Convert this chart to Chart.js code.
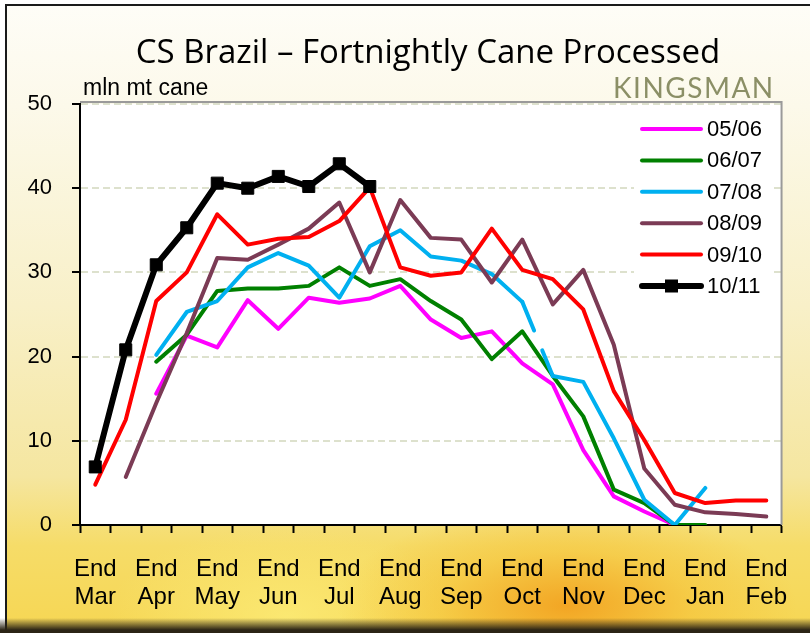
<!DOCTYPE html>
<html>
<head>
<meta charset="utf-8">
<script src="https://cdn.jsdelivr.net/npm/chart.js@4/dist/chart.umd.min.js"></script>
<style>
  html, body { margin: 0; padding: 0; background: #fff; }
  #frame {
    position: absolute; left: 5px; top: 4px; width: 805px; height: 629px;
    border-left: 2px solid #1a1a1a; border-top: 2px solid #1a1a1a;
    background:
      radial-gradient(ellipse 230px 100px at 560px 600px, rgba(242,160,30,0.9), rgba(245,190,50,0.5) 55%, rgba(250,220,80,0) 100%),
      radial-gradient(ellipse 180px 90px at 280px 610px, rgba(252,236,120,0.8), rgba(252,236,120,0) 100%),
      linear-gradient(to bottom, #fefdf7 0px, #fcf9ea 100px, #f8f0c8 300px, #f5e6a0 470px, #f6dc68 540px, #f6d652 629px);
  }
  #shadow {
    position: absolute; left: 0; top: 618px; width: 810px; height: 15px;
    background: linear-gradient(to bottom, rgba(80,60,20,0), #2b2416 80%);
  }
  #wrap { position: absolute; left: 0; top: 0; width: 810px; height: 633px; }
</style>
</head>
<body>
<div id="frame"></div>
<div id="shadow"></div>
<div id="wrap"><canvas id="caneChart"></canvas></div>
<script>
// fortnight categories, only the "End" ones get a tick label
var fortnights = ['End Mar', 'Mid Apr', 'End Apr', 'Mid May', 'End May', 'Mid Jun', 'End Jun',
    'Mid Jul', 'End Jul', 'Mid Aug', 'End Aug', 'Mid Sep', 'End Sep', 'Mid Oct', 'End Oct',
    'Mid Nov', 'End Nov', 'Mid Dec', 'End Dec', 'Mid Jan', 'End Jan', 'Mid Feb', 'End Feb'];

var seasons = ['05/06', '06/07', '07/08', '08/09', '09/10', '10/11'];
var seasonColors = ['#ff00ff', '#008000', '#00b0f0', '#7b3b55', '#ff0000', '#000000'];

// mln mt cane processed per fortnight
var cane0506 = [null, null, 15.6, 22.5, 21.1, 26.7, 23.3, 27.0, 26.4, 26.9, 28.4, 24.4, 22.2, 23.0, 19.2, 16.7, 8.9, 3.4, 1.6, 0, null, null, null];
var cane0607 = [null, null, 19.4, 22.6, 27.8, 28.1, 28.1, 28.4, 30.6, 28.4, 29.2, 26.6, 24.4, 19.7, 23.0, 17.7, 12.9, 4.2, 2.6, 0, 0, null, null];
var cane0708 = [null, null, 20.2, 25.3, 26.6, 30.6, 32.3, 30.8, 27.0, 33.1, 35.0, 31.9, 31.4, 29.8, 26.5, 17.7, 17.0, 10.3, 3.0, 0, 4.4, null, null];
var cane0809 = [null, 5.7, 14.5, 22.8, 31.7, 31.5, 33.3, 35.2, 38.3, 30.0, 38.6, 34.1, 33.9, 28.8, 33.9, 26.2, 30.3, 21.4, 6.7, 2.4, 1.5, 1.3, 1.0];
var cane0910 = [4.8, 12.5, 26.6, 30.0, 36.9, 33.3, 34.0, 34.2, 36.1, 40.1, 30.6, 29.6, 30.0, 35.2, 30.3, 29.2, 25.6, 15.9, 10.1, 3.8, 2.6, 2.9, 2.9];
var cane1011 = [6.9, 20.8, 30.9, 35.3, 40.6, 40.0, 41.4, 40.2, 42.9, 40.2];

var seriesData = [cane0506, cane0607, cane0708, cane0809, cane0910, cane1011];

var yMin = 0, yMax = 50, yStep = 10;

var datasets = seasons.map(function (name, i) {
    var isCurrent = (i === seasons.length - 1);
    return {
        label: name,
        data: seriesData[i],
        borderColor: seasonColors[i],
        backgroundColor: seasonColors[i],
        borderWidth: isCurrent ? 6 : 4,
        tension: 0,
        fill: false,
        borderCapStyle: 'round',
        borderJoinStyle: 'round',
        pointRadius: isCurrent ? 8.5 : 0,
        pointHoverRadius: isCurrent ? 8.5 : 0,
        pointStyle: 'rect',
        pointBorderWidth: 1,
        order: seasons.length - i
    };
});

// the 07/08 line is broken between End Oct and Mid Nov in the original
datasets[2].segment = {
    borderDash: function (ctx) { return ctx.p0DataIndex === 14 ? [31, 21.5, 400] : undefined; }
};

var decorations = {
    id: 'decorations',
    beforeDraw: function (chart) {
        var ctx = chart.ctx, a = chart.chartArea;
        ctx.save();
        ctx.fillStyle = '#ffffff';
        ctx.fillRect(a.left, a.top, a.right - a.left, a.bottom - a.top);
        ctx.restore();
    },
    beforeDatasetsDraw: function (chart) {
        var ctx = chart.ctx, a = chart.chartArea;
        ctx.save();
        ctx.strokeStyle = '#9a9a9a';
        ctx.lineWidth = 2;
        ctx.beginPath();
        ctx.moveTo(a.left, a.top - 2);
        ctx.lineTo(a.right, a.top - 2);
        ctx.lineTo(a.right, a.bottom);
        ctx.stroke();
        ctx.restore();
    },
    afterDatasetsDraw: function (chart) {
        var ctx = chart.ctx;
        ctx.save();
        ctx.fillStyle = '#ffffff';
        ctx.fillRect(634, 113, 138, 188);
        chart.data.datasets.forEach(function (ds, i) {
            var y = 129 + i * 31.4;
            ctx.strokeStyle = ds.borderColor;
            ctx.lineWidth = ds.borderWidth;
            ctx.lineCap = 'round';
            ctx.beginPath();
            ctx.moveTo(642, y);
            ctx.lineTo(701, y);
            ctx.stroke();
            if (ds.pointRadius > 0) {
                ctx.fillStyle = ds.borderColor;
                ctx.fillRect(665, y - 6.5, 13, 13);
            }
            ctx.fillStyle = '#000';
            ctx.font = '22px "Liberation Sans", Arial, sans-serif';
            ctx.textAlign = 'left';
            ctx.textBaseline = 'middle';
            ctx.fillText(ds.label, 707, y + 1);
        });
        ctx.restore();
    },
    afterDraw: function (chart) {
        var ctx = chart.ctx;
        ctx.save();
        ctx.fillStyle = '#000';
        ctx.textBaseline = 'alphabetic';
        ctx.textAlign = 'center';
        ctx.font = '33px "Open Sans", sans-serif';
        ctx.fillText('CS Brazil \u2013 Fortnightly Cane Processed', 428, 63, 592);
        ctx.textAlign = 'left';
        ctx.font = '23px "Liberation Sans", Arial, sans-serif';
        ctx.fillText('mln mt cane', 83, 95, 134);
        ctx.fillStyle = '#8b8f66';
        ctx.font = '28px Lato, sans-serif';
        ctx.letterSpacing = '1.5px';
        ctx.fillText('KINGSMAN', 613, 98, 174);
        ctx.restore();
    }
};

var caneCtx = document.getElementById('caneChart').getContext('2d');
var caneChart = new Chart(caneCtx, {
    type: 'line',
    data: {
        labels: fortnights,
        datasets: datasets
    },
    options: {
        responsive: true,
        maintainAspectRatio: false,
        animation: false,
        devicePixelRatio: 1,
        layout: { padding: { left: 0, right: 16, top: 104, bottom: 0 } },
        plugins: {
            legend: { display: false },
            title: { display: false },
            tooltip: { enabled: false }
        },
        scales: {
            x: {
                offset: true,
                afterFit: function (scale) { scale.height = 108; },
                grid: {
                    offset: true,
                    drawOnChartArea: false,
                    drawTicks: true,
                    tickLength: 8,
                    tickColor: '#000',
                    tickWidth: 2
                },
                border: { display: true, color: '#000', width: 2 },
                ticks: {
                    autoSkip: false,
                    maxRotation: 0,
                    padding: 22,
                    color: '#000',
                    font: { family: '"Liberation Sans", Arial, sans-serif', size: 24, lineHeight: 1.17 },
                    callback: function (value) {
                        var label = this.getLabelForValue(value);
                        return label.indexOf('End') === 0 ? label.split(' ') : '';
                    }
                }
            },
            y: {
                min: yMin,
                max: yMax,
                afterFit: function (scale) { scale.width = 80; },
                grid: {
                    color: '#dde1cd',
                    lineWidth: 2,
                    drawTicks: true,
                    tickLength: 8,
                    tickColor: '#000',
                    tickWidth: 2,
                    tickBorderDash: []
                },
                border: { display: true, color: '#000', width: 2, dash: [7, 4] },
                ticks: {
                    stepSize: yStep,
                    padding: 20,
                    color: '#000',
                    font: { family: '"Liberation Sans", Arial, sans-serif', size: 22 }
                }
            }
        }
    },
    plugins: [decorations]
});
</script>
</body>
</html>
